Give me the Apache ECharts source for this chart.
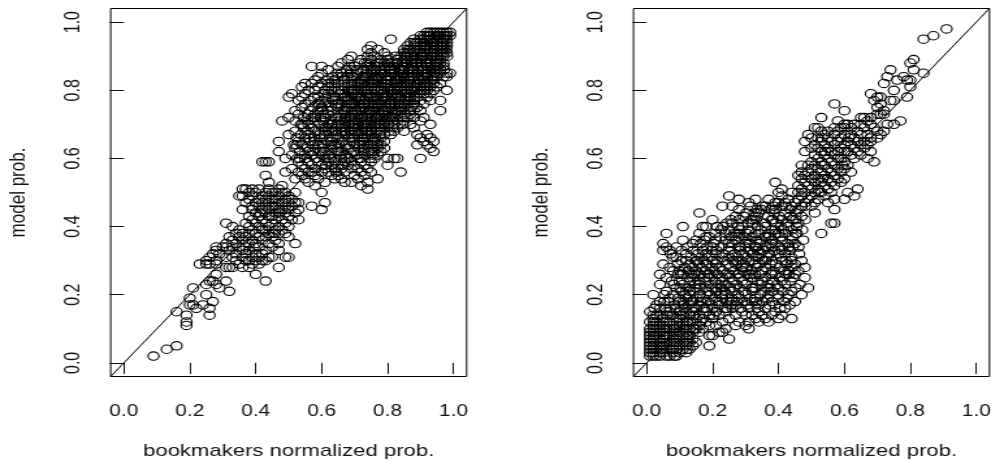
<!DOCTYPE html>
<html>
<head>
<meta charset="utf-8">
<script src="https://cdn.jsdelivr.net/npm/echarts@6/dist/echarts.min.js"></script>
<style>
html, body { margin: 0; padding: 0; background: #fff; overflow: hidden; }
/* the original picture is stretched sideways, so the whole chart is too */
#chart { width: 762px; height: 461px; transform: scaleX(1.3005); transform-origin: 0 0; }
</style>
</head>
<body>
<div id="chart"></div>
<script>
var tickValues = [0, 0.2, 0.4, 0.6, 0.8, 1];
var axisRange = [-0.04, 1.04];
var xTitle = 'bookmakers normalized prob.';
var yTitle = 'model prob.';

// each row: y in hundredths, then the x values (hundredths) read at that y
var leftRows = [
    [97, 92, 93, 94, 95, 96, 97, 98, 99],
    [96, 90, 91, 92, 93, 94, 95, 96, 97, 98, 99],
    [95, 81, 88, 90, 91, 93, 94, 95, 96, 97, 98],
    [94, 87, 89, 90, 92, 93, 94, 95, 97, 98],
    [93, 75, 86, 88, 90, 91, 92, 94, 95, 96, 97, 98],
    [92, 74, 77, 85, 87, 89, 90, 92, 93, 95, 96, 97],
    [91, 75, 79, 85, 86, 88, 90, 91, 93, 94, 96, 97, 98],
    [90, 69, 74, 76, 80, 84, 86, 87, 89, 91, 92, 94, 95, 97],
    [89, 68, 72, 75, 78, 80, 83, 85, 87, 88, 90, 92, 93, 95, 96],
    [88, 66, 71.5, 74, 76.6, 79, 81.4, 83, 84.7, 86, 88.5, 89, 91.6, 93, 94.5, 96, 97],
    [87, 57, 60, 65, 68.4, 70, 73.6, 75, 77.5, 79, 80.7, 82, 84.4, 85, 87.6, 89, 90.5, 92, 94.6, 95, 97],
    [86, 62, 67.5, 69, 72.7, 74, 76.4, 78, 80.6, 81, 83.5, 85, 86.7, 88, 90.3, 91, 93.4, 95, 96],
    [85, 60, 64.6, 66, 68.7, 71, 73.5, 75, 77.8, 79, 81.3, 82, 84.6, 86, 87.4, 89, 91.7, 92, 94.3, 96, 98, 99],
    [84, 59, 63.4, 65, 67.8, 70, 72.6, 74, 76.3, 78, 79.7, 81, 83.6, 85, 87.2, 88, 90.6, 92, 93.5, 95, 97, 98],
    [83, 58, 61.5, 64, 66.8, 69, 71.7, 73, 75.4, 77, 79.6, 80, 82.7, 84, 86.3, 88, 89.6, 91, 93.3, 94],
    [82, 55, 57, 60, 63, 65, 68, 70, 72, 74, 76, 78, 80, 81, 83, 85, 87, 89, 90, 92, 94, 96],
    [81, 54, 59, 62, 64, 67, 69, 71, 73, 75, 77, 79, 81, 83, 84, 86, 88, 90, 91, 93, 95],
    [80, 56, 58, 61, 63, 66, 68, 70, 72, 74, 76, 77, 79, 81, 82, 84, 86, 88, 90, 92, 94, 98],
    [79, 51, 55, 60.6, 62, 65.7, 67, 69.4, 71, 73.8, 75, 78.3, 80, 81.6, 83, 85.4, 87, 89.7, 91, 93],
    [78, 50, 54, 57.7, 59, 61.4, 64, 66.8, 68, 70.5, 72, 74.6, 76, 78.7, 80, 82.4, 84, 85.6, 87, 89, 92],
    [77, 53, 56.7, 60, 63.5, 65, 67.7, 69, 71.4, 73, 75.8, 77, 79.3, 81, 83.6, 85, 86.4, 88, 90, 93, 96],
    [76, 55, 58.8, 61, 64.3, 66, 68.6, 70, 72.7, 74, 76.4, 78, 80.5, 82, 84.3, 86, 88, 91],
    [75, 54, 57.4, 60, 62.8, 65, 67.5, 69, 71.6, 73, 75.7, 77, 79.4, 81, 83.7, 85, 87.3, 89],
    [74, 52, 56.5, 59, 61.8, 63, 66.7, 68, 70.3, 72, 74.6, 76, 78.8, 80, 82.5, 84, 86.7, 88, 90, 96],
    [73, 53, 55.7, 58, 60.6, 62, 65.8, 67, 69.5, 71, 73.7, 75, 77.4, 79, 81.6, 83, 85.3, 87],
    [72, 50, 54.6, 57, 59.7, 61, 64.4, 66, 68.8, 70, 72.3, 74, 76.7, 78, 80.6, 82, 84.4, 86, 88, 91],
    [71, 48, 52, 55.8, 58, 60.5, 63, 65.6, 67, 69.7, 71, 73.4, 75, 77.8, 79, 81.5, 83, 85, 90],
    [70, 53.7, 56, 59.4, 62, 64.8, 66, 68.3, 70, 72.7, 74, 76.5, 78, 80.3, 82, 84.6, 87, 93],
    [69, 54.5, 57, 60.7, 61.3, 63, 65.8, 67, 69.6, 71, 73.3, 75, 77.7, 79, 81.4, 83, 88],
    [68, 52, 55.6, 58, 60.8, 62, 64.5, 66, 68.7, 70, 72.4, 74, 76.8, 78, 80.5, 82, 85],
    [67, 50, 53.7, 56, 59.5, 61, 64.6, 67, 69.3, 71, 73.8, 75, 77.5, 79, 81, 89, 92],
    [66, 52.4, 55, 57.7, 60, 62.6, 65, 68.4, 70, 72.8, 74, 76.3, 78, 90, 93],
    [65, 47, 53, 56.6, 58, 61.7, 63, 66.4, 69, 71.5, 73, 75.7, 77, 79, 91, 94],
    [64, 51.6, 54, 57.4, 59, 62.7, 64, 67.5, 70, 72.6, 74, 76.8, 78, 89, 92],
    [63, 52, 55.7, 58, 60.4, 63, 65.8, 68, 71.3, 73, 75.6, 77, 79, 93],
    [62, 47, 53.4, 56, 59.6, 61, 64.7, 66, 69.5, 72, 74.3, 76, 78, 94],
    [61, 51, 54.8, 57, 60.3, 62, 65.6, 67, 70.7, 73, 75.4, 77],
    [60, 49, 52.7, 55, 58.4, 61, 63.8, 66, 68.5, 71, 74.6, 76, 80, 82, 83, 90],
    [59, 42, 43, 44, 53, 56, 59, 62, 64, 67, 69, 72, 75],
    [58, 54, 57, 60, 63, 65, 68, 70, 73, 80],
    [57, 51, 55, 58, 61, 64, 66, 69, 71, 74],
    [56, 49, 53, 56, 60, 62, 67, 72, 75, 84],
    [55, 43, 54, 58, 63, 65, 70, 73],
    [54, 52, 55, 59, 64, 66, 71, 77],
    [53, 44, 56, 61, 67, 69, 74],
    [52, 48, 58, 72],
    [51, 36, 37, 39, 41, 44, 47, 74],
    [50, 38, 40, 43, 45, 46, 48, 49, 52, 60],
    [49, 35, 36, 39, 42, 44, 47, 50],
    [48, 38, 41, 43, 45, 46, 49, 51],
    [47, 37, 40, 42, 44, 47, 48, 50, 52, 53, 61],
    [46, 39, 41, 43, 45, 46, 49, 51, 57],
    [45, 36, 39, 42, 44, 47, 48, 50, 53, 60],
    [44, 40, 43, 46, 49, 52],
    [43, 38, 41, 44, 45, 47, 50],
    [42, 39, 42, 46, 48, 51, 53],
    [41, 31, 37, 40, 43, 45, 49],
    [40, 33, 38, 41, 44, 47, 50],
    [39, 35, 39, 42, 43, 46, 48],
    [38, 34, 36, 40, 44, 47, 49],
    [37, 32, 35, 37, 41, 43, 45, 50],
    [36, 33, 36, 39, 42, 46],
    [35, 31, 34, 38, 40, 44, 47, 52],
    [34, 28, 30, 33, 35, 37, 41, 45],
    [33, 28, 32, 36, 38, 43, 47],
    [32, 27, 29, 34, 37, 40, 42],
    [31, 26, 31, 33, 36, 39, 41, 44, 45, 49, 50],
    [30, 25, 28, 34, 37, 38, 40, 42, 43],
    [29, 23, 25, 26, 28, 35, 39, 41],
    [28, 31, 32, 33, 36, 38, 47],
    [26, 28, 40],
    [24, 26, 27, 31, 43],
    [23, 25, 28],
    [22, 21, 29],
    [21, 32],
    [20, 25],
    [19, 20],
    [18, 27],
    [17, 20, 21, 24],
    [16, 22, 26],
    [15, 16],
    [14, 19, 26],
    [12, 19],
    [11, 19],
    [5, 16],
    [4, 13],
    [2, 9]
];

// more circles in the crowded parts, where single x values can only be guessed
var leftCrowded = [
    [96, 92.5, 95.5, 97.5],
    [94, 88.3, 91.2, 93.6, 96.4],
    [92, 86.4, 88.2, 91.3, 94.1, 96.6, 97.8],
    [90, 82.5, 85.3, 88.1, 90.4, 93.2, 96.2, 98.1],
    [88, 73.1, 77.6, 80.2, 82.7, 85.4, 87.3, 90.1, 92.2, 95.3],
    [86, 70.7, 75.3, 79.1, 82.2, 84.3, 87.6, 89.2, 92.4, 94.2, 97.1],
    [84, 66.3, 69.1, 73.4, 75.6, 77.3, 80.2, 82.4, 84.1, 86.2, 89.4, 91.3, 94.2],
    [82, 62.1, 69.2, 71.3, 73.2, 75.4, 77.1, 79.3, 82.4, 84.3, 86.1, 88.2, 91.4],
    [80, 65.2, 69.4, 71.2, 73.3, 75.1, 78.2, 80.4, 83.1, 85.2, 87.3, 89.1, 91.2],
    [78, 63.1, 67.2, 69.1, 71.3, 73.4, 75.2, 77.1, 79.3, 81.2, 83.4, 86.3, 88.1],
    [76, 59.3, 65.1, 69.2, 71.4, 73.1, 75.3, 77.2, 79.4, 81.1, 83.3, 85.2],
    [74, 60.3, 67.2, 69.3, 71.1, 73.4, 75.2, 77.3, 79.1, 81.4, 83.2],
    [72, 58.1, 65.1, 67.3, 71.4, 73.1, 75.3, 77.2, 79.4, 81.3],
    [70, 54.3, 63.1, 67.2, 69.4, 71.1, 73.3, 75.2, 77.4, 79.1],
    [68, 59.1, 63.3, 67.1, 71.3, 73.4, 75.1],
    [66, 56.2, 63.4, 69.1, 73.1, 75.4],
    [64, 52.4, 60.4, 65.3, 71.4, 75.1],
    [62, 57.4, 65.2, 70.1, 75.2],
    [60, 53.4, 62.3, 67.4, 72.1],
    [58, 61.3, 66.4],
    [56, 57.1, 64.4],
    [44, 41.4, 47.3],
    [38, 38.1, 45.4],
    [34, 31.2, 39.4]
];

var rightRows = [
    [98, 91],
    [96, 87],
    [95, 84],
    [89, 81],
    [88, 80],
    [86, 74, 81],
    [85, 84],
    [84, 73, 78],
    [83, 76, 79, 80],
    [82, 72],
    [81, 80],
    [80, 75],
    [79, 68],
    [78, 70, 71, 79],
    [77, 69, 74, 75],
    [76, 57, 71],
    [75, 70],
    [74, 60, 72],
    [73, 70, 71, 72],
    [72, 53, 65, 66, 68],
    [71, 58, 67, 77],
    [70, 60, 61, 63, 65, 68, 73, 75],
    [69, 51, 52, 57, 59, 60, 62, 66, 69],
    [68, 53, 55, 58, 64, 70, 72],
    [67, 49, 54, 57, 60, 62, 65, 67, 71],
    [66, 50, 52, 55, 59, 63, 68, 70],
    [65, 48, 53, 56, 58, 61, 64, 66, 68],
    [64, 51, 54, 57, 60, 62, 65, 67],
    [63, 50, 52, 55, 59, 63, 66],
    [62, 48, 53, 56, 60, 61, 64, 68],
    [61, 51, 54, 57, 62, 65],
    [60, 52, 55, 58, 59, 63, 67],
    [59, 50, 53, 56, 60, 69],
    [58, 47, 49, 51, 54, 57, 61],
    [57, 50, 52, 55, 58, 60],
    [56, 47, 49, 53, 56, 59, 62],
    [55, 46, 48, 51, 54, 57],
    [54, 47, 50, 52, 55, 58, 60],
    [53, 39, 48, 51, 53, 56, 59],
    [52, 46, 49, 54, 57],
    [51, 41, 47, 50, 52, 55, 64],
    [50, 40, 46, 48, 51, 53, 56, 61],
    [49, 25, 41, 47, 50, 54, 63],
    [48, 28, 33, 37, 43, 46, 49, 52, 57, 60],
    [47, 31, 39, 40, 42, 45, 48, 51, 55],
    [46, 23, 26, 31.5, 36, 38.5, 41, 44, 47, 50],
    [45, 28, 33.5, 34.8, 37.4, 39, 43.6, 46, 57],
    [44, 16, 30.2, 32.7, 34, 38.6, 42, 45.3, 51],
    [43, 27, 29.4, 33, 36.8, 40.2, 43.5, 47],
    [42, 20, 25.6, 28, 31.7, 33.2, 37.9, 41, 44.4, 48.1],
    [41, 24.3, 26, 30.8, 32.1, 35.7, 39.2, 42.6, 46, 56, 57],
    [40, 11, 17, 18, 21.4, 23.2, 27.8, 29, 33.6, 36, 40.7, 43, 45.5],
    [39, 22.6, 25, 28.3, 31, 34.7, 38, 38.9, 41.5, 44, 47.2],
    [38, 6, 16, 20.7, 24, 26.6, 27.4, 30.3, 33, 36.9, 39, 42, 45.6, 53],
    [37, 18, 19, 22.3, 25.8, 28, 29.5, 32, 35.9, 37, 40.6, 44.2],
    [36, 11, 15, 17.6, 21, 23.9, 27, 30.7, 33.3, 34.6, 38.2, 41.1, 43.7, 47.5],
    [35, 5, 14, 16.4, 20.3, 24.8, 26, 29.9, 31.2, 34.4, 37.7, 39, 42.8, 45],
    [34, 6, 9, 12.5, 18.3, 22.6, 25, 27.9, 30, 32.8, 36.1, 36.9, 40.5, 44.3, 46.1],
    [33, 5, 7, 10.6, 14.2, 17, 19.7, 21.2, 24.9, 28.4, 31, 33.7, 35.2, 38.8, 41, 43.5],
    [32, 7.3, 12, 15.6, 18, 20.9, 23.1, 26.8, 29, 32.4, 34.6, 37.2, 39.9, 42, 46.3],
    [31, 8, 9, 13.4, 16.7, 19, 22.8, 25, 27.6, 30.3, 33.1, 33.9, 36.5, 40.7, 44],
    [30, 10.5, 12, 14.9, 17.3, 20, 23.6, 26.2, 28.7, 31, 35.4, 38, 41.2, 43.8, 47],
    [29, 5, 9.4, 13, 15.8, 18.2, 21, 24.7, 27, 29.3, 32.8, 34, 37.5, 39.1, 42.6, 45],
    [28, 7, 11.6, 14, 16.5, 19.8, 22, 25.4, 28.9, 30.2, 33.5, 36, 40.4, 44.1, 48],
    [27, 8, 10, 12.7, 15, 17.9, 20.4, 23, 26.6, 29.2, 31.7, 35, 38.3, 41.8, 43, 46],
    [26, 4, 9.5, 11, 13.6, 16, 18.7, 21.4, 24, 27.8, 30.3, 32.9, 34.2, 37.7, 39, 42.4, 45],
    [25, 6, 12.4, 14, 17.5, 19, 22.9, 25.2, 28, 31.6, 32.4, 36, 40.3, 44.5, 48],
    [24, 7.6, 10, 13.2, 15.7, 18, 20.8, 23, 26.4, 29, 33.6, 35, 38.4, 41, 43.7],
    [23, 4, 8.3, 11, 14.6, 16, 19.5, 21.8, 24, 27.4, 30, 34.7, 37, 39.6, 42, 46.5],
    [22, 9, 12.6, 15, 17.8, 20, 22.7, 25.3, 28, 31.9, 33, 36.5, 40, 45.2, 49],
    [21, 6, 10.7, 13, 14.2, 18.5, 21, 23.7, 26, 29.6, 32.1, 35.8, 38, 41.4, 44],
    [20, 2, 5.4, 8, 11.7, 13, 16.2, 19, 22.6, 24, 27.7, 30, 34.5, 37, 39.8, 43, 47],
    [19, 7, 9.6, 12, 15.3, 17, 20.7, 23, 25.8, 28, 31.4, 33, 36.7, 40, 42.5],
    [18, 4, 6.6, 10, 13.5, 14, 18.6, 21, 24.4, 26, 29.7, 32, 35.3, 38, 41.6, 45],
    [17, 3, 8.5, 11, 12.7, 16, 19.8, 22, 25.5, 27, 30.6, 34, 37.2, 39, 43.4],
    [16, 4, 5.6, 9, 13.7, 15, 17.4, 20, 23.8, 26, 28.5, 31, 33.6, 36, 40.5, 42],
    [15, 1, 6, 7, 10, 12, 14, 18, 21, 24, 29, 34, 39],
    [14, 2, 3, 8, 11, 13, 16, 19, 22, 27, 30, 32, 35, 38, 41],
    [13, 2, 5, 9, 10, 15, 17, 20, 25, 33, 36, 40, 44],
    [12, 1, 3, 6, 7, 11, 13, 14, 18, 23, 28, 31, 34, 37],
    [11, 2, 4, 5, 8, 10, 12, 16, 19, 21, 27, 30],
    [10, 1, 3, 6, 7, 9, 11, 13, 15, 17, 24, 31],
    [9, 1, 2, 4, 5, 8, 10, 12, 14, 16, 22, 23],
    [8, 1, 3, 6, 7, 9, 11, 13, 19, 20],
    [7, 1, 2, 4, 5, 8, 10, 12, 14, 25],
    [6, 1, 3, 6, 7, 9, 11, 13, 15],
    [5, 1, 2, 4, 5, 8, 10, 12, 14, 19],
    [4, 1, 2, 3, 6, 7, 9, 11, 13],
    [3, 1, 2, 4, 5, 8, 10, 12],
    [2, 1, 2, 3, 6, 7, 9]
];

var rightCrowded = [
    [66, 53.2, 61.4],
    [62, 54.2, 58.1],
    [58, 53.2, 59.3],
    [54, 53.4],
    [50, 44.1, 52.3],
    [46, 35.1, 42.2, 48.1],
    [42, 32.3, 38.4, 45.3],
    [38, 28.1, 34.2, 40.1, 45.2],
    [34, 20.1, 28.4, 33.3, 38.2, 43.1],
    [30, 15.4, 21.3, 27.1, 32.2, 36.1, 42.2],
    [26, 10.3, 14.4, 19.2, 25.1, 31.2, 38.1, 43.2],
    [22, 10.2, 16.1, 21.2, 26.4, 32.3, 37.4],
    [18, 5.3, 11.2, 16.3, 22.2, 27.3, 33.2],
    [16, 2.3, 7.2, 11.4, 18.3, 24.4],
    [14, 4.2, 6.3, 10.4, 14.3, 20.3],
    [12, 2.2, 5.1, 9.2, 12.3, 16.4],
    [10, 2.1, 5.2, 8.4, 12.1, 14.3],
    [8, 2.2, 5.3, 8.2, 12.4],
    [6, 2.1, 4.3, 8.4, 12.3],
    [4, 4.4, 8.1, 12.2],
    [2, 4.1, 8.4]
];

function rowsToPoints(rows) {
    var points = [];
    rows.forEach(function (row) {
        for (var i = 1; i < row.length; i++) {
            points.push([row[i] / 100, row[0] / 100]);
        }
    });
    return points;
}

function tickFormat(v) {
    return v.toFixed(1);
}

function makeAxis(gridIndex, title, isY) {
    return {
        type: 'value',
        gridIndex: gridIndex,
        min: axisRange[0],
        max: axisRange[1],
        name: title,
        nameLocation: 'middle',
        nameGap: isY ? 62 : 66,
        nameRotate: isY ? 90 : 0,
        nameTextStyle: { fontFamily: 'Liberation Sans', fontSize: 17, color: '#111' },
        splitLine: { show: false },
        axisLine: { show: false },
        axisTick: {
            show: true,
            length: 11,
            customValues: tickValues,
            lineStyle: { color: '#111', width: 1 }
        },
        axisLabel: {
            show: true,
            customValues: tickValues,
            formatter: tickFormat,
            rotate: isY ? 90 : 0,
            margin: isY ? 21 : 27,
            fontFamily: 'Liberation Sans',
            fontSize: 16,
            color: '#111'
        }
    };
}

function makeGrid(left) {
    return {
        left: left,
        top: 8.5,
        width: 273.7,
        height: 368,
        outerBoundsMode: 'none',
        show: true,
        borderColor: '#000',
        borderWidth: 1,
        backgroundColor: 'transparent'
    };
}

function makeSeries(index, rows) {
    return [{
        type: 'scatter',
        xAxisIndex: index,
        yAxisIndex: index,
        data: rowsToPoints(rows),
        symbol: 'circle',
        symbolSize: 8.4,
        progressive: 0,
        itemStyle: { color: 'rgba(0,0,0,0)', borderColor: '#000', borderWidth: 1.1, opacity: 1 },
        emphasis: { disabled: true }
    }, {
        type: 'line',
        xAxisIndex: index,
        yAxisIndex: index,
        data: [[axisRange[0], axisRange[0]], [axisRange[1], axisRange[1]]],
        symbol: 'none',
        lineStyle: { color: '#000', width: 1 },
        emphasis: { disabled: true }
    }];
}

var chart = echarts.init(document.getElementById('chart'), null, { renderer: 'canvas' });
chart.setOption({
    animation: false,
    backgroundColor: '#fff',
    grid: [makeGrid(85.1), makeGrid(487.1)],
    xAxis: [makeAxis(0, xTitle, false), makeAxis(1, xTitle, false)],
    yAxis: [makeAxis(0, yTitle, true), makeAxis(1, yTitle, true)],
    series: makeSeries(0, leftRows.concat(leftCrowded)).concat(makeSeries(1, rightRows.concat(rightCrowded)))
});
</script>
</body>
</html>
